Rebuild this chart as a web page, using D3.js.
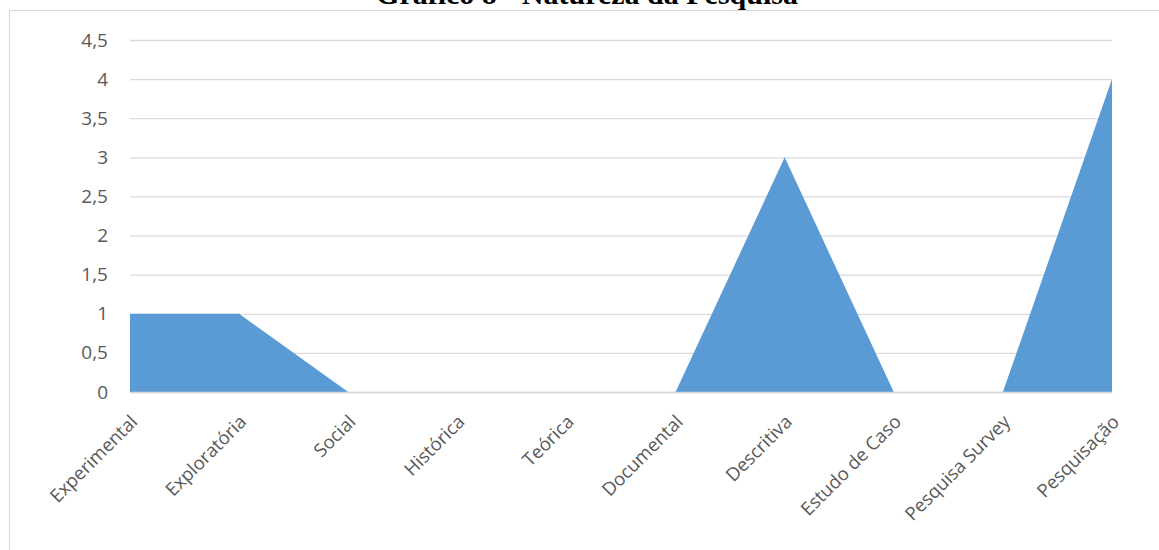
<!DOCTYPE html>
<html><head><meta charset="utf-8">
<script src="https://cdn.jsdelivr.net/npm/d3@7"></script>
<style>body{margin:0;background:#fff}</style>
</head><body>
<svg id="c" width="1159" height="550"></svg>
<script>
const categories = ["Experimental","Exploratória","Social","Histórica","Teórica","Documental","Descritiva","Estudo de Caso","Pesquisa Survey","Pesquisação"];
const values = [1,1,0,0,0,0,3,0,0,4];
const yTicks = [0,0.5,1,1.5,2,2.5,3,3.5,4,4.5];
const title = "Gráfico 8 - Natureza da Pesquisa";

const svg = d3.select("#c");
const x = d3.scalePoint().domain(categories).range([130,1112]);
const y = d3.scaleLinear().domain([0,4.5]).range([392,40]);

// chart border
svg.append("rect").attr("x",9.5).attr("y",10.5).attr("width",1200).attr("height",600)
  .attr("fill","none").attr("stroke","#d9d9d9").attr("stroke-width",1);

// title
svg.append("text").attr("x",587).attr("y",4).attr("text-anchor","middle")
  .attr("font-family","'Liberation Serif','Times New Roman',serif").attr("font-weight","bold")
  .attr("font-size",30).attr("fill","#000").text(title);

// gridlines
const fmt = d => String(d).replace(".",",");
svg.append("g").attr("transform","translate(130,0)")
  .call(d3.axisLeft(y).tickValues(yTicks).tickSize(-982).tickFormat(fmt).tickPadding(22))
  .call(g=>g.select(".domain").remove())
  .call(g=>g.selectAll(".tick line").attr("stroke","#d9d9d9").attr("stroke-width",1.3))
  .call(g=>g.selectAll(".tick text").attr("fill","#595959").attr("font-size",19)
        .attr("font-family","'Open Sans','Noto Sans',sans-serif"));

// area
const area = d3.area().x(d=>x(d.c)).y0(y(0)).y1(d=>y(d.v));
svg.append("path").datum(categories.map((c,i)=>({c,v:values[i]})))
  .attr("d",area).attr("fill","#5b9bd5");

// x axis
const xa = svg.append("g").attr("transform","translate(0,392)")
  .call(d3.axisBottom(x).tickSize(0).tickPadding(0));
xa.select(".domain").attr("stroke","#d9d9d9").attr("stroke-width",1.3);
xa.selectAll(".tick text").attr("fill","#595959").attr("font-size",18.5)
  .attr("font-family","'Open Sans','Noto Sans',sans-serif")
  .attr("text-anchor","end").attr("dy",0)
  .attr("transform","translate(8,31) rotate(-45)");
</script>
</body></html>
